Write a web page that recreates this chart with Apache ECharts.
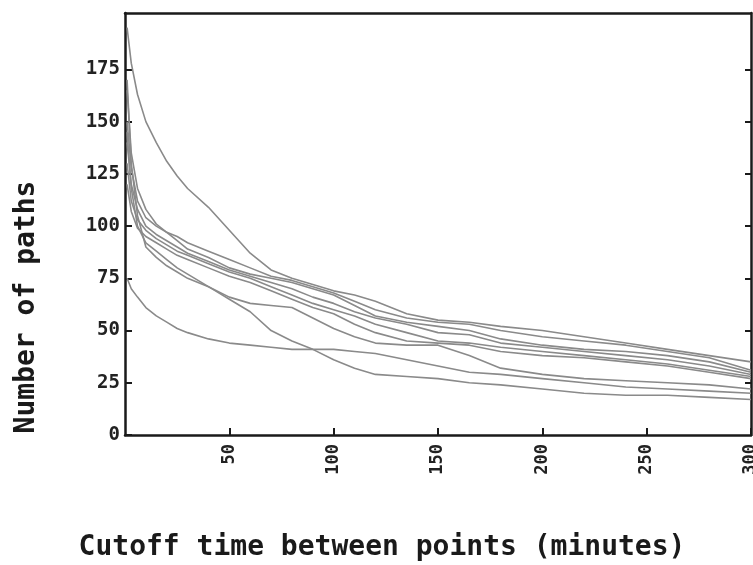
<!DOCTYPE html>
<html>
<head>
<meta charset="utf-8">
<script src="https://cdn.jsdelivr.net/npm/echarts@6/dist/echarts.min.js"></script>
<style>html,body{margin:0;padding:0;background:#fff}#c{width:753px;height:565px}</style>
</head>
<body>
<div id="c"></div>
<script>
// Cutoff time (minutes)
var cutoffMinutes = [1, 3, 6, 10, 15, 20, 25, 30, 40, 50, 60, 70, 80, 90, 100, 110, 120, 135, 150, 165, 180, 200, 220, 240, 260, 280, 300];
// Number of paths for each trace
var paths1 = [195, 178, 163, 150, 140, 131, 124, 118, 109, 98, 87, 79, 75, 72, 69, 67, 64, 58, 55, 54, 52, 50, 47, 44, 41, 38, 35];
var paths2 = [150, 128, 112, 104, 100, 97, 95, 92, 88, 84, 80, 76, 74, 71, 68, 64, 60, 56, 54, 53, 50, 47, 45, 43, 40, 37, 31];
var paths3 = [165, 135, 118, 108, 101, 97, 93, 89, 85, 80, 77, 75, 73, 70, 67, 62, 57, 54, 52, 50, 46, 43, 41, 40, 38, 35, 30];
var paths4 = [140, 120, 108, 100, 96, 93, 90, 87, 83, 79, 76, 73, 70, 66, 63, 59, 56, 53, 49, 48, 44, 42, 40, 38, 36, 33, 29];
var paths5 = [130, 112, 103, 98, 94, 91, 88, 86, 82, 78, 75, 71, 67, 63, 60, 57, 53, 49, 45, 44, 42, 40, 38, 36, 34, 31, 28];
var paths6 = [120, 107, 99, 95, 92, 89, 86, 84, 80, 76, 73, 69, 65, 61, 58, 53, 49, 45, 44, 43, 40, 38, 37, 35, 33, 30, 27];
var paths7 = [170, 130, 105, 90, 85, 81, 78, 75, 71, 65, 59, 50, 45, 41, 36, 32, 29, 28, 27, 25, 24, 22, 20, 19, 19, 18, 17];
var paths8 = [75, 70, 66, 61, 57, 54, 51, 49, 46, 44, 43, 42, 41, 41, 41, 40, 39, 36, 33, 30, 29, 27, 25, 23, 22, 21, 20];
var paths9 = [145, 118, 100, 92, 88, 84, 80, 77, 71, 66, 63, 62, 61, 56, 51, 47, 44, 43, 43, 38, 32, 29, 27, 26, 25, 24, 22];
var allPaths = [paths1, paths2, paths3, paths4, paths5, paths6, paths7, paths8, paths9];
// Tick labels
var xTicks = [50, 100, 150, 200, 250, 300];
var yTicks = [0, 25, 50, 75, 100, 125, 150, 175];
var rightTicks = [25, 50, 75, 100, 125, 150, 175];
var xTitle = 'Cutoff time between points (minutes)';
var yTitle = 'Number of paths';

var FONT = '"DejaVu Sans Mono", monospace';
var axisColor = '#1a1a1a';

var series = allPaths.map(function (arr, i) {
  return {
    type: 'line',
    name: 'trace' + (i + 1),
    xAxisIndex: 0,
    yAxisIndex: 0,
    data: cutoffMinutes.map(function (x, j) { return [x, arr[j]]; }),
    showSymbol: false,
    symbol: 'none',
    lineStyle: { color: '#8a8a8a', width: 1.6 },
    silent: true,
    animation: false
  };
});

var chart = echarts.init(document.getElementById('c'), null, { renderer: 'canvas' });
chart.setOption({
  backgroundColor: '#ffffff',
  animation: false,
  grid: { left: 125, right: 2, top: 13, bottom: 130, containLabel: false, outerBoundsMode: 'none' },
  xAxis: [{
    type: 'value', min: 0, max: 300, position: 'bottom',
    axisLine: { show: true, onZero: false, lineStyle: { color: axisColor, width: 2.5 } },
    axisTick: { show: true, inside: true, length: 7, customValues: xTicks, lineStyle: { color: axisColor, width: 2 } },
    axisLabel: { show: true, rotate: 90, margin: 9, customValues: xTicks, color: '#222', fontFamily: FONT, fontWeight: 'bold', fontSize: 17 },
    splitLine: { show: false }
  }, {
    type: 'value', min: 0, max: 300, position: 'top',
    axisLine: { show: true, onZero: false, lineStyle: { color: axisColor, width: 2.5 } },
    axisTick: { show: false }, axisLabel: { show: false }, splitLine: { show: false }
  }],
  yAxis: [{
    type: 'value', min: 0, max: 202, position: 'left',
    axisLine: { show: true, onZero: false, lineStyle: { color: axisColor, width: 2.5 } },
    axisTick: { show: true, inside: true, length: 7, customValues: yTicks, lineStyle: { color: axisColor, width: 2 } },
    axisLabel: { show: true, margin: 5, customValues: yTicks, color: '#222', fontFamily: FONT, fontWeight: 'bold', fontSize: 19 },
    splitLine: { show: false }
  }, {
    type: 'value', min: 0, max: 202, position: 'right',
    axisLine: { show: true, onZero: false, lineStyle: { color: axisColor, width: 2.5 } },
    axisTick: { show: true, inside: true, length: 6, customValues: rightTicks, lineStyle: { color: axisColor, width: 2 } },
    axisLabel: { show: false }, splitLine: { show: false }
  }],
  graphic: [{
    type: 'text', x: 382, y: 548,
    style: { text: xTitle, font: 'bold 28px ' + FONT, fill: '#1a1a1a', align: 'center', verticalAlign: 'middle' }
  }, {
    type: 'text', x: 13, y: 307, rotation: Math.PI / 2,
    style: { text: yTitle, font: 'bold 28px ' + FONT, fill: '#1a1a1a', align: 'center', verticalAlign: 'top' }
  }],
  series: series
});
</script>
</body>
</html>
